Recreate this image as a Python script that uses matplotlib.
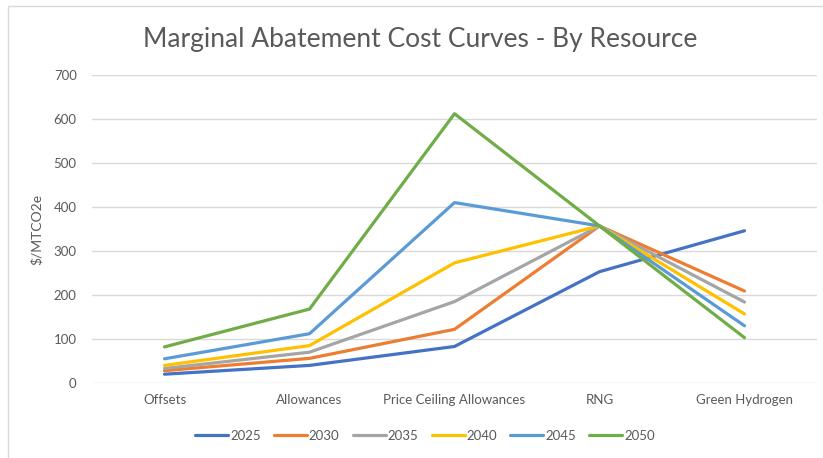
import matplotlib.pyplot as plt
from matplotlib.patches import Rectangle

# marginal abatement cost by resource, $/MTCO2e
resources = ["Offsets", "Allowances", "Price Ceiling Allowances", "RNG", "Green Hydrogen"]
years = ["2025", "2030", "2035", "2040", "2045", "2050"]

cost_2025 = [20, 40, 83, 253, 346]
cost_2030 = [28, 56, 122, 357, 209]
cost_2035 = [33, 70, 185, 357, 184]
cost_2040 = [40, 85, 273, 357, 157]
cost_2045 = [55, 112, 410, 357, 130]
cost_2050 = [82, 168, 612, 357, 103]

series = [cost_2025, cost_2030, cost_2035, cost_2040, cost_2045, cost_2050]
colors = ["#4472C4", "#ED7D31", "#A5A5A5", "#FFC000", "#5B9BD5", "#70AD47"]

plt.rcParams['font.family'] = ['Lato', 'DejaVu Sans']
txt = "#595959"

fig = plt.figure(figsize=(8.23, 4.58), dpi=100)
# chart border
fig.patches.append(Rectangle((8/823, -0.1), 1.2, 1 - 6/458 + 0.1, transform=fig.transFigure,
                             fill=False, edgecolor="#d9d9d9", linewidth=1))

ax = fig.add_axes([92/823, 1 - 383/458, 725/823, 308/458])
x = range(len(resources))
for vals, yr, c in zip(series, years, colors):
    ax.plot(x, vals, color=c, linewidth=2.3, label=yr, solid_capstyle='round', solid_joinstyle='round')

ax.set_xlim(-0.5, len(resources) - 0.5)
ax.set_ylim(0, 700)
ax.set_yticks(range(0, 701, 100))
ax.set_xticks(list(x))
ax.set_xticklabels(resources)
ax.grid(axis='y', color="#d9d9d9", linewidth=1)
ax.set_axisbelow(True)
for s in ax.spines.values():
    s.set_visible(False)
ax.tick_params(axis='both', length=0, colors=txt, labelsize=9.5)
ax.tick_params(axis='y', pad=11)
ax.tick_params(axis='x', pad=8)
ax.set_ylabel("$/MTCO2e", color=txt, fontsize=10, labelpad=8)

fig.text(0.51, 1 - 40/458, "Marginal Abatement Cost Curves - By Resource",
         ha='center', va='center', fontsize=19, color=txt)

ax.legend(loc='center', bbox_to_anchor=((425 - 92) / 725, -(436 - 383) / 308),
          ncol=6, frameon=False, fontsize=9.5, handlelength=2.5, handletextpad=0.15,
          columnspacing=1.0, labelcolor=txt)

fig.savefig("out.png", dpi=100)
